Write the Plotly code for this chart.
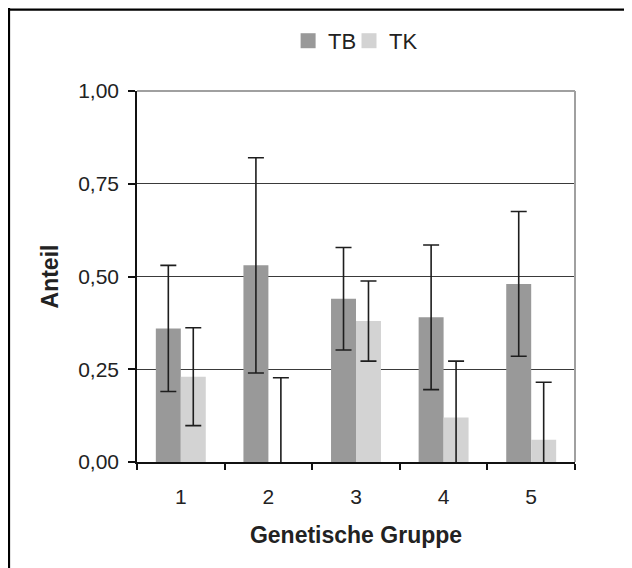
import plotly.graph_objects as go

groups = ["1", "2", "3", "4", "5"]
tb_values = [0.36, 0.53, 0.44, 0.39, 0.48]
tb_errors = [0.17, 0.29, 0.138, 0.195, 0.195]
tk_values = [0.23, 0.0, 0.38, 0.12, 0.06]
tk_errors = [0.132, 0.227, 0.108, 0.152, 0.155]
y_ticks = [0, 0.25, 0.5, 0.75, 1.0]
series_names = ["TB", "TK"]
series_colors = ["#999999", "#d3d3d3"]
legend_ids = ["legend", "legend2"]

FONT = "Liberation Sans, Arial, sans-serif"
err_style = dict(type="data", visible=True, color="#1e1e1e", thickness=1.6, width=8)

fig = go.Figure()
for name, vals, errs, col in zip(series_names, [tb_values, tk_values], [tb_errors, tk_errors], series_colors):
    fig.add_trace(go.Bar(
        name=name, x=groups, y=vals, showlegend=False,
        marker=dict(color=col, line=dict(width=0)),
        error_y=dict(array=errs, **err_style),
    ))
# legend proxies (square swatches), one legend box each
for name, col, lg in zip(series_names, series_colors, legend_ids):
    fig.add_trace(go.Scatter(
        name=name, x=[None], y=[None], mode="markers", legend=lg,
        marker=dict(symbol="square", size=15, color=col, line=dict(width=0)),
    ))

legend_common = dict(orientation="h", xanchor="left", y=1.135, yanchor="middle",
                     font=dict(size=22, color="#222222"), bgcolor="rgba(0,0,0,0)",
                     itemwidth=30)

# figure sits at page offset (8, 8) because of the default body margin
fig.update_layout(
    width=624, height=560,
    margin=dict(l=129, r=57, t=83, b=106, autoexpand=False),
    paper_bgcolor="white", plot_bgcolor="white",
    barmode="group", bargap=0.43, bargroupgap=0,
    separators=",.",
    font=dict(family=FONT, size=21, color="#222222"),
    showlegend=True,
    legend=dict(x=0.345, **legend_common),
    legend2=dict(x=0.484, **legend_common),
    xaxis=dict(
        type="category", showgrid=False, showline=True, linecolor="#111111", linewidth=1.5,
        ticks="outside", ticklen=6, tickcolor="#111111", tickwidth=1.5, tickson="boundaries",
        tickfont=dict(size=21, color="#222222"), ticklabelstandoff=15,
        title=dict(text="<b>Genetische Gruppe</b>", font=dict(size=23, color="#222222"), standoff=20),
    ),
    yaxis=dict(
        range=[0, 1], tickvals=y_ticks, tickformat=".2f",
        showgrid=True, gridcolor="#3a3a3a", gridwidth=1,
        showline=True, linecolor="#111111", linewidth=1.5, zeroline=False,
        ticks="outside", ticklen=7, tickcolor="#111111", tickwidth=1.5,
        tickfont=dict(size=21, color="#222222"), ticklabelstandoff=5,
        title=dict(text="<b>Anteil</b>", font=dict(size=23, color="#222222"), standoff=13),
    ),
    shapes=[
        dict(type="line", xref="paper", yref="paper", x0=0, x1=1, y0=1, y1=1,
             line=dict(color="#a0a0a0", width=2), layer="above"),
        dict(type="line", xref="paper", yref="paper", x0=1, x1=1, y0=0, y1=1,
             line=dict(color="#a0a0a0", width=2), layer="above"),
        dict(type="line", xref="paper", yref="paper", x0=-0.2922, x1=-0.2922, y0=1.225, y1=-0.35,
             line=dict(color="black", width=2.2)),
        dict(type="line", xref="paper", yref="paper", x0=-0.295, x1=1.25, y0=1.2191, y1=1.2191,
             line=dict(color="black", width=2.2)),
    ],
)

fig.write_html("out.html")
